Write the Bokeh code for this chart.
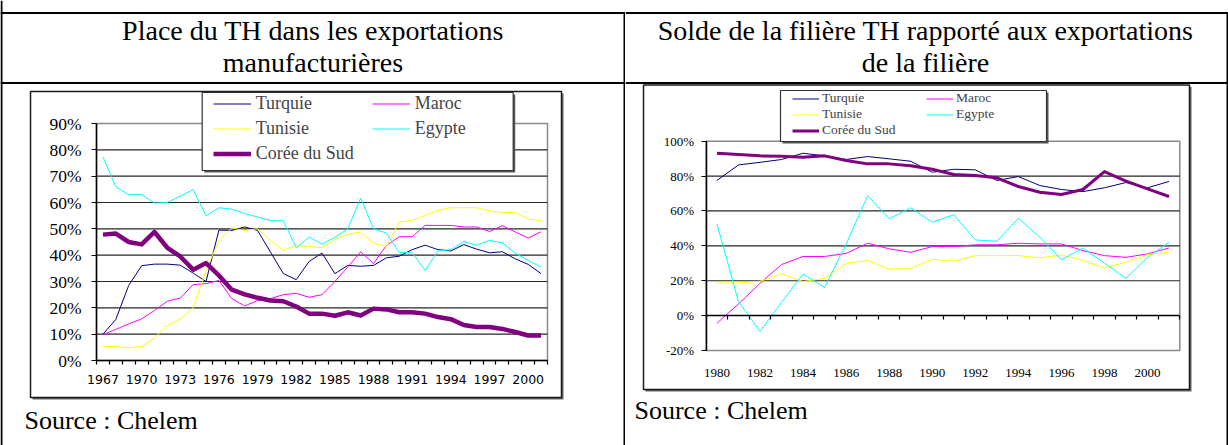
from bokeh.plotting import figure
from bokeh.layouts import row
from bokeh.models import (Range1d, LinearAxis, FixedTicker, PrintfTickFormatter,
                          CustomJSTickFormatter, Legend, LegendItem, Label)
from bokeh.embed import file_html
from bokeh.resources import INLINE

# ---------------- data ----------------
years_a = list(range(1967, 2002))
turquie_a = [10, 15.6, 28.5, 36, 36.6, 36.6, 36.2, 33.2, 30, 49.5, 49.4, 50.7, 49.4, 41.2, 33,
             30.7, 37.6, 40.8, 33, 36.1, 35.8, 36.1, 39, 39.6, 42.1, 43.8, 42.1, 41.6, 44, 42.3,
             40.9, 41.3, 38.6, 36.5, 33]
maroc_a = [9.8, 11.8, 13.9, 15.8, 19, 22.5, 23.7, 28.8, 29.2, 30.4, 23.5, 20.7, 22.8, 23.5, 25,
           25.5, 24, 25, 30, 35.5, 41.3, 36.8, 43.7, 47, 47, 51.3, 51.3, 51.3, 50.7, 50.7,
           49, 51.2, 48.8, 46.5, 48.9]
tunisie_a = [5.3, 5.3, 4.8, 5.3, 8.6, 13.3, 15.8, 20, 34.2, 45.6, 50.3, 49.4, 50, 45.6, 41.8,
             43.7, 43.3, 42.8, 46, 47.9, 48.8, 44.6, 43.3, 52.6, 53.2, 55.1, 57, 58, 58, 58,
             56.8, 56.2, 56.2, 53.7, 53]
egypte_a = [77.3, 65.9, 63, 63, 59.8, 60, 62.4, 64.9, 55, 58, 57.5, 55.8, 54.5, 53.1, 53.1,
            42.8, 46.9, 44.2, 46.8, 50, 61.7, 50, 48.4, 41, 41, 34.2, 41.6, 42.1, 45.2, 43.8,
            45.6, 44.7, 40.8, 38, 35.5]
coree_a = [47.8, 48.2, 45, 44.1, 48.8, 42.8, 39.5, 34.5, 37, 32.3, 26.9, 25.1, 23.8, 22.8, 22.5,
           20.5, 17.8, 17.8, 17, 18.3, 17.1, 19.7, 19.4, 18.3, 18.3, 17.8, 16.5, 15.7, 13.5, 12.7,
           12.7, 12, 10.8, 9.5, 9.5]

years_b = list(range(1980, 2002))
turquie_b = [77.5, 86.4, 87.9, 89.5, 93.1, 91.6, 89.5, 91.2, 89.9, 88.5, 82.2, 83.9, 83.6, 77.5,
             79.7, 74.6, 72.3, 71.1, 73.3, 76.3, 73.3, 76.9]
maroc_b = [-4.4, 6.7, 18.5, 29.3, 33.9, 33.9, 35.7, 41.5, 38.3, 36.3, 39.6, 39.6, 40.6, 40.6,
           41.5, 41.1, 41.1, 37.3, 34.4, 33.4, 35.4, 38.8]
tunisie_b = [18.7, 18.7, 19.7, 23.9, 19.5, 21.4, 30, 31.6, 26.6, 27.1, 32.3, 31.2, 34.4, 34.4,
             34.4, 33.1, 34.8, 31.6, 27.4, 30.6, 35, 36.3]
egypte_b = [52.6, 8, -9, 7.6, 23.9, 16.2, 41, 68.8, 55.5, 61.8, 53.5, 57.8, 43.4, 42.6, 55.8,
            45, 32, 38.8, 30, 21.4, 33.4, 42]
coree_b = [93.1, 92.4, 91.6, 91.4, 90.8, 91.6, 88.9, 87, 87, 85.9, 83.9, 80.9, 80.3, 79, 74,
           70.7, 69.4, 72.3, 82.6, 77.1, 72.7, 68.3]

country_names = ["Turquie", "Maroc", "Tunisie", "Egypte", "Corée du Sud"]
country_colors = ["#000080", "#FF00FF", "#FFFF00", "#00FFFF", "#800080"]

label_years_a = list(range(1967, 2001, 3))
label_years_b = list(range(1980, 2001, 2))
yticks_a = list(range(0, 91, 10))
yticks_b = list(range(-20, 101, 20))

title_a = ["Place du TH dans les exportations", "manufacturières"]
title_b = ["Solde de la filière TH rapporté aux exportations", "de la filière"]
source_text = "Source : Chelem"

# ---------------- layout (page pixel coordinates) ----------------
SERIF = "Liberation Serif"
PAGE_Y0, PAGE_H = 0, 445


def make_panel(cell_x0, cell_x1, pa, xdom, ydom):
    W = cell_x1 - cell_x0
    sx = (pa[1] - pa[0]) / (xdom[1] - xdom[0])
    sy = (pa[3] - pa[2]) / (ydom[1] - ydom[0])
    xr = Range1d(xdom[0] - (pa[0] - cell_x0) / sx, xdom[1] + (cell_x1 - pa[1]) / sx)
    yr = Range1d(ydom[0] - (PAGE_Y0 + PAGE_H - pa[3]) / sy, ydom[1] + (pa[2] - PAGE_Y0) / sy)
    p = figure(width=W, height=PAGE_H, x_range=xr, y_range=yr, x_axis_type=None,
               y_axis_type=None, title=None, toolbar_location=None, output_backend="svg",
               min_border=0, outline_line_color=None, border_fill_color="white",
               background_fill_color="white")
    p.extra_x_ranges = {"px": Range1d(cell_x0, cell_x1)}
    p.extra_y_ranges = {"px": Range1d(PAGE_Y0 + PAGE_H, PAGE_Y0)}
    return p


def px(**kw):
    kw.update(x_range_name="px", y_range_name="px")
    return kw


def build(cell, pa, xdom, ydom, frame, legbox, years, series, widths, grid_vals, yticks,
          label_years, ylab_size, ylab_standoff, xlab_font, xlab_size,
          xlab_standoff, xlab_loc, leg_font_size, leg_glyph_w, leg_standoff, leg_label_w,
          leg_row_h, leg_spacing, leg_pos, titles, title_cx, title_ys, title_size,
          source_xy, source_size, table_lines):
    p = make_panel(cell[0], cell[1], pa, xdom, ydom)

    # chart frame with shadow
    p.quad(**px(left=[frame[0] + 2], right=[frame[1] + 2], top=[frame[2] + 2], bottom=[frame[3] + 2],
                fill_color="#666666", line_color=None, level="underlay"))
    p.quad(**px(left=[frame[0]], right=[frame[1]], top=[frame[2]], bottom=[frame[3]],
                fill_color="white", line_color="#1a1a1a", line_width=1.5, level="underlay"))

    # plot area outline (grey) and gridlines
    p.quad(left=[xdom[0]], right=[xdom[1]], bottom=[ydom[0]], top=[ydom[1]],
           fill_color=None, line_color="#8a8a8a", line_width=1.5, level="underlay")
    p.segment(x0=[xdom[0]] * len(grid_vals), x1=[xdom[1]] * len(grid_vals),
              y0=grid_vals, y1=grid_vals, line_color="#262626", line_width=1.2)

    renderers = []
    for vals, col, w in zip(series, country_colors, widths):
        r = p.line(years, vals, line_color=col, line_width=w, line_join="round")
        renderers.append(r)

    # legend box with shadow
    p.quad(**px(left=[legbox[0] + 2], right=[legbox[1] + 2], top=[legbox[2] + 2], bottom=[legbox[3] + 2],
                fill_color="#555555", line_color=None, level="annotation"))
    p.quad(**px(left=[legbox[0]], right=[legbox[1]], top=[legbox[2]], bottom=[legbox[3]],
                fill_color="white", line_color="#333333", line_width=1.2, level="annotation"))

    items = [LegendItem(label=n, renderers=[r]) for n, r in zip(country_names, renderers)]
    leg = Legend(items=items, orientation="horizontal", ncols=2, location=leg_pos,
                 padding=0, margin=0, spacing=leg_spacing, border_line_color=None,
                 background_fill_alpha=0, label_text_font=SERIF,
                 label_text_font_size=leg_font_size, glyph_width=leg_glyph_w,
                 glyph_height=leg_row_h, label_height=leg_row_h,
                 label_standoff=leg_standoff, label_width=leg_label_w)
    p.add_layout(leg, "center")

    # y axis
    yax = LinearAxis(fixed_location=xdom[0], bounds=(ydom[0], ydom[1]),
                     ticker=FixedTicker(ticks=yticks),
                     formatter=PrintfTickFormatter(format="%d%%"),
                     major_tick_out=5, major_tick_in=0, minor_tick_out=0, minor_tick_in=0,
                     axis_line_color="black", axis_line_width=1.5,
                     major_tick_line_color="black", major_tick_line_width=1.2,
                     major_label_text_font=SERIF, major_label_text_font_size=ylab_size,
                     major_label_text_color="black", major_label_standoff=ylab_standoff)
    p.add_layout(yax, "left")

    # x axis: tick marks between categories, on the 0 line
    bounds_ticks = [y - 0.5 for y in years] + [years[-1] + 0.5]
    xtk = LinearAxis(fixed_location=0, bounds=(xdom[0], xdom[1]),
                     ticker=FixedTicker(ticks=bounds_ticks),
                     formatter=CustomJSTickFormatter(code="return ''"),
                     major_tick_out=4, major_tick_in=0, minor_tick_out=0, minor_tick_in=0,
                     axis_line_color="black", axis_line_width=1.5,
                     major_tick_line_color="black", major_tick_line_width=1.2)
    p.add_layout(xtk, "below")
    # x axis labels
    xlb = LinearAxis(fixed_location=xlab_loc, ticker=FixedTicker(ticks=label_years),
                     major_tick_out=0, major_tick_in=0, minor_tick_out=0, minor_tick_in=0,
                     axis_line_color=None, major_tick_line_color=None,
                     major_label_text_font=xlab_font, major_label_text_font_size=xlab_size,
                     major_label_text_color="black", major_label_standoff=xlab_standoff)
    p.add_layout(xlb, "below")

    # table lines
    xs0, ys0, xs1, ys1 = table_lines
    p.segment(**px(x0=xs0, y0=ys0, x1=xs1, y1=ys1, line_color="black", line_width=2))

    # titles and source
    for t, ty in zip(titles, title_ys):
        p.add_layout(Label(**px(x=title_cx, y=ty, text=t, text_align="center",
                                text_baseline="middle", text_font=SERIF,
                                text_font_size=title_size, text_color="black")))
    p.add_layout(Label(**px(x=source_xy[0], y=source_xy[1], text=source_text,
                            text_align="left", text_baseline="middle", text_font=SERIF,
                            text_font_size=source_size, text_color="black")))
    return p


pA = build(cell=(0, 625), pa=(96, 547, 123, 360), xdom=(1966.5, 2001.5), ydom=(0, 90),
           frame=(30, 561, 91, 397), legbox=(201.7, 512.7, 92, 170),
           years=years_a, series=[turquie_a, maroc_a, tunisie_a, egypte_a, coree_a],
           widths=[1, 1, 1, 1, 4.5], grid_vals=yticks_a[1:-1], yticks=yticks_a,
           label_years=label_years_a, ylab_size="17.5px", ylab_standoff=10,
           xlab_font="DejaVu Sans", xlab_size="12.5px", xlab_standoff=14, xlab_loc=0,
           leg_font_size="18px", leg_glyph_w=38, leg_standoff=5, leg_label_w=112,
           leg_row_h=21, leg_spacing=4, leg_pos=(212.7, 445 - (93 + 71)),
           titles=title_a, title_cx=312.5, title_ys=[30, 62], title_size="28px",
           source_xy=(24, 420), source_size="26px",
           table_lines=([1, 0, 0, 624], [0, 12.5, 82.5, 12.5], [1, 625, 625, 624], [445, 12.5, 82.5, 445]))

pB = build(cell=(625, 1228), pa=(705.7, 1179.3, 140.7, 350), xdom=(1979.5, 2001.5),
           ydom=(-20, 100), frame=(643, 1189, 84.5, 389), legbox=(780, 1046, 90, 141),
           years=years_b, series=[turquie_b, maroc_b, tunisie_b, egypte_b, coree_b],
           widths=[1, 1, 1, 1, 3], grid_vals=[20, 40, 60, 80], yticks=yticks_b,
           label_years=label_years_b, ylab_size="13px", ylab_standoff=7,
           xlab_font=SERIF, xlab_size="13px", xlab_standoff=18, xlab_loc=-20,
           leg_font_size="13.5px", leg_glyph_w=27, leg_standoff=3, leg_label_w=104,
           leg_row_h=13, leg_spacing=0, leg_pos=(792 - 625, 445 - (94 + 44)),
           titles=title_b, title_cx=925, title_ys=[30, 62], title_size="28px",
           source_xy=(634, 410), source_size="26px",
           table_lines=([625, 625, 1227], [12.5, 82.5, 12.5], [1228, 1228, 1227], [12.5, 82.5, 445]))

layout = row(pA, pB)
open("out.html", "w").write(file_html(layout, INLINE))
